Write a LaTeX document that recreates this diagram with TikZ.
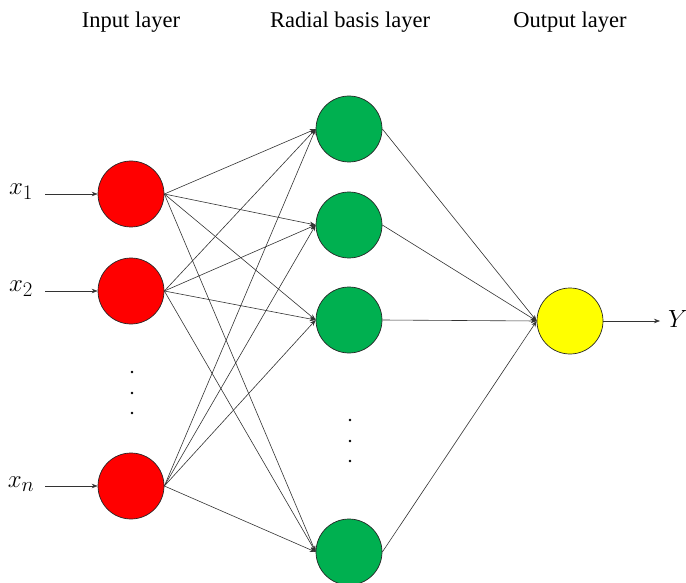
\documentclass[tikz,border=0pt]{standalone}
\usepackage{fontspec}
\setmainfont{Liberation Serif}
\usetikzlibrary{arrows.meta}
\definecolor{nred}{HTML}{FF0000}
\definecolor{ngreen}{HTML}{00B050}
\definecolor{nyellow}{HTML}{FFFF00}
\begin{document}
\begin{tikzpicture}[x=1pt,y=-1pt,
  neuron/.style={circle,draw=black!85,line width=0.7pt,minimum size=66pt,inner sep=0pt},
  conn/.style={line width=0.6pt,draw=black!80,-{Stealth[length=6pt,width=4.5pt]}},
  title/.style={font=\fontsize{22.5}{26}\selectfont},
  lab/.style={font=\fontsize{29}{32}\selectfont},
  dotm/.style={circle,fill=black,inner sep=0pt,minimum size=2.6pt}]
\useasboundingbox (0,0) rectangle (686,583);
% titles
\node[title] (t1) at (131,22) {Input layer};
\node[title] (t2) at (350,22) {Radial basis layer};
\node[title] (t3) at (570,22) {Output layer};
% input neurons
\node[neuron,fill=nred] (i1) at (131,194) {};
\node[neuron,fill=nred] (i2) at (131,291) {};
\node[neuron,fill=nred] (in) at (131,486) {};
% rbf neurons
\node[neuron,fill=ngreen] (h1) at (349,129) {};
\node[neuron,fill=ngreen] (h2) at (349,225) {};
\node[neuron,fill=ngreen] (h3) at (349,320) {};
\node[neuron,fill=ngreen] (hm) at (349,552) {};
% output
\node[neuron,fill=nyellow] (o) at (570,321) {};
% input labels
\node[lab] (x1) at (21,192) {$x_1$};
\node[lab] (x2) at (21,289) {$x_2$};
\node[lab] (xn) at (21,484) {$x_n$};
\coordinate (x1e) at (45,194);
\coordinate (x2e) at (45,291);
\coordinate (xne) at (45,486);
\draw[conn] (x1e) -- (i1.west);
\draw[conn] (x2e) -- (i2.west);
\draw[conn] (xne) -- (in.west);
% dots
\node[dotm] (d1) at (132,372) {};
\node[dotm] (d2) at (132,393) {};
\node[dotm] (d3) at (132,413) {};
\node[dotm] (e1) at (350,420) {};
\node[dotm] (e2) at (350,441) {};
\node[dotm] (e3) at (350,461) {};
% input to rbf
\foreach \a in {i1,i2,in}{
  \foreach \b in {h1,h2,h3,hm}{
    \draw[conn] (\a.east) -- (\b.west);
  }
}
% rbf to output
\foreach \b in {h1,h2,h3,hm}{
  \draw[conn] (\b.east) -- (o.west);
}
% output arrow
\coordinate (ye) at (660,321);
\draw[conn] (o.east) -- (ye);
\node[lab] (Y) at (678,319) {$Y$};
\end{tikzpicture}
\end{document}
